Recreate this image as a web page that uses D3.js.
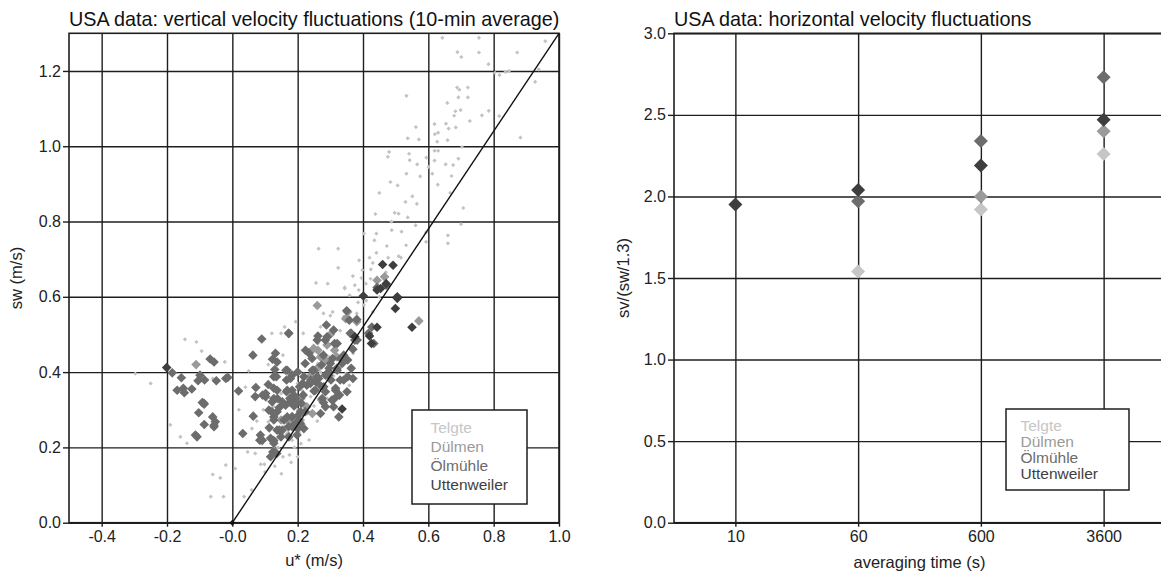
<!DOCTYPE html>
<html><head><meta charset="utf-8">
<script src="https://cdn.jsdelivr.net/npm/d3@7"></script>
<style>
html,body{margin:0;padding:0;background:#fff;}
svg text{font-family:"Liberation Sans",Arial,Helvetica,sans-serif;}
</style></head>
<body><svg id="c" width="1161" height="575"></svg>
<script>
// ---------- DATA ----------
const siteNames = ["Telgte", "Dülmen", "Ölmühle", "Uttenweiler"];
const siteColors = ["#c6c6c6", "#9a9a9a", "#6c6c6c", "#3e3e3e"];

// Left panel: u* (m/s) vs sw (m/s), 10-min averages
const telgte = [
[0.643,1.288],[0.755,1.288],[0.689,1.25],[0.701,1.237],[0.755,1.249],[0.872,1.249],[0.958,1.279],
[0.784,1.218],[0.804,1.195],[0.818,1.189],[0.836,1.197],[0.847,1.2],[0.938,1.204],[0.927,1.171],
[0.688,1.156],[0.695,1.15],[0.721,1.156],[0.692,1.13],[0.721,1.13],[0.533,1.134],[0.658,1.115],
[0.683,1.093],[0.699,1.096],[0.679,1.081],[0.727,1.067],[0.764,1.082],[0.785,1.094],[0.817,1.08],
[0.619,1.059],[0.654,1.06],[0.562,1.051],[0.62,1.032],[0.63,1.036],[0.662,1.047],[0.684,1.05],
[0.659,1.016],[0.537,1.021],[0.571,1.018],[0.627,1.012],[0.882,1.023],[0.703,0.998],[0.48,0.985],
[0.541,0.98],[0.594,0.97],[0.619,0.988],[0.63,0.988],[0.543,0.963],[0.566,0.952],[0.619,0.962],
[0.653,0.952],[0.676,0.95],[0.692,0.967],[0.476,0.972],[0.533,0.927],[0.575,0.92],[0.612,0.927],
[0.601,0.945],[0.671,0.921],[0.484,0.905],[0.506,0.896],[0.629,0.898],[0.667,0.876],[0.45,0.876],
[0.551,0.867],[0.53,0.852],[0.565,0.847],[0.707,0.836],[0.438,0.82],[0.497,0.823],[0.509,0.821],
[0.537,0.811],[0.487,0.8],[0.561,0.79],[0.7,0.793],[0.518,0.773],[0.488,0.777],[0.593,0.771],
[0.441,0.768],[0.66,0.763],[0.66,0.742],[0.532,0.737],[0.593,0.746],[0.403,0.768],[0.435,0.75],
[0.473,0.735],[0.509,0.708],[0.516,0.704],[0.264,0.728],[0.324,0.728],[0.441,0.717],[0.388,0.697],
[0.42,0.704],[0.477,0.704],[0.324,0.677],[0.398,0.671],[0.424,0.673],[0.369,0.655],[0.423,0.648],
[0.256,0.637],[0.292,0.635],[0.344,0.625],[0.387,0.618],[0.359,0.604],
[0.344,0.622],[0.375,0.631],[0.409,0.635],[0.279,0.556],[0.307,0.56],[0.341,0.547],[0.381,0.556],
[0.403,0.578],[0.194,0.534],[0.16,0.52],[0.121,0.503],[0.149,0.503],[0.217,0.503],[0.262,0.476],
[-0.145,0.487],[-0.094,0.456],[-0.023,0.427],[-0.06,0.383],[0.05,0.403],[-0.297,0.396],
[-0.159,0.228],[-0.139,0.211],[-0.06,0.128],[-0.037,0.119],[-0.02,0.153],[0.009,0.144],
[-0.066,0.069],[-0.027,0.069],[0.036,0.069],[0.059,0.087],[0.047,0.188],[0.07,0.184],[0.087,0.155],
[0.098,0.155],[0.127,0.202],[0.155,0.175],[0.081,0.228],[0.138,0.224],[0.11,0.268],[0.172,0.281],
[0.16,0.255],[0.183,0.219],[0.127,0.308],[0.104,0.326],[0.194,0.326],[0.149,0.343],[0.217,0.273],
[0.251,0.379],[0.262,0.423],[0.296,0.441],[0.347,0.396],[0.358,0.365],[0.33,0.343],
[0.2,0.3],[0.22,0.26],[0.165,0.235],[0.14,0.2],[0.118,0.17],[0.1,0.135],[0.13,0.15],[0.18,0.285],
[0.24,0.335],[0.28,0.35],[0.3,0.42],[0.32,0.47],[0.36,0.5],[0.385,0.585],[0.43,0.56],[0.205,0.24],
[0.23,0.29],[0.19,0.2],[0.25,0.31],[0.27,0.4],[0.31,0.39],[0.29,0.33],[-0.11,0.48],[-0.25,0.37],
[-0.19,0.26],[0.02,0.3],[0.04,0.36],[0.075,0.27],[0.09,0.21],[0.175,0.18],[0.215,0.35],[0.33,0.51],
[0.41,0.59],[0.45,0.6],[0.47,0.665],[0.37,0.45],[0.34,0.43],[0.155,0.445],[0.11,0.42],
[0.18,0.16],[0.2,0.175],[0.21,0.21],[0.235,0.22],[0.26,0.27],[0.285,0.3],[0.15,0.13],[0.17,0.24],
[0.095,0.3],[0.06,0.25],[0.2,0.37],[0.245,0.45],[0.27,0.52],[0.3,0.55],[0.395,0.65],[0.43,0.69]
];
const duelmen = [
[0.571,0.536],[0.26,0.577],[0.353,0.56],[0.347,0.542],[0.381,0.534],[0.249,0.463],[0.262,0.458],
[0.285,0.432],[0.29,0.472],[0.313,0.458],[0.228,0.308],[0.245,0.29],[0.273,0.326],[-0.111,0.42],
[0.149,0.273],[0.172,0.268],[0.443,0.644],[0.466,0.653],[0.3,0.5],[0.26,0.41],[0.21,0.33],
[0.27,0.44],[0.32,0.44],[0.24,0.39]
];
const oelmuehle = [
[-0.184,0.398],[-0.156,0.385],[-0.169,0.352],[-0.15,0.357],[-0.147,0.345],[-0.124,0.355],
[-0.099,0.392],[-0.105,0.377],[-0.085,0.379],[-0.068,0.435],[-0.056,0.427],[-0.049,0.377],
[-0.02,0.383],[-0.014,0.386],[-0.092,0.319],[-0.086,0.315],[-0.103,0.292],[-0.06,0.281],
[-0.086,0.261],[-0.056,0.255],[-0.052,0.268],[-0.113,0.233],[-0.108,0.228],[0.019,0.35],
[0.063,0.445],[0.09,0.488],[0.07,0.335],[0.072,0.359],[0.093,0.339],[0.102,0.343],[0.064,0.283],
[0.032,0.237],[0.086,0.233],[0.084,0.219],[0.113,0.252],[0.127,0.388],[0.13,0.407],[0.132,0.45],
[0.123,0.434],[0.11,0.367],[0.127,0.357],[0.138,0.33],[0.144,0.306],[0.121,0.295],[0.127,0.281],
[0.144,0.246],[0.127,0.218],[0.149,0.228],[0.124,0.188],[0.136,0.184],[0.172,0.503],[0.164,0.405],
[0.166,0.379],[0.183,0.392],[0.166,0.348],[0.183,0.352],[0.194,0.33],[0.177,0.321],[0.163,0.312],
[0.189,0.31],[0.206,0.361],[0.217,0.339],[0.211,0.317],[0.223,0.295],[0.203,0.286],[0.183,0.281],
[0.172,0.255],[0.194,0.264],[0.208,0.264],[0.2,0.25],[0.234,0.451],[0.223,0.423],[0.245,0.405],
[0.24,0.379],[0.256,0.374],[0.228,0.365],[0.262,0.496],[0.288,0.525],[0.285,0.485],[0.279,0.445],
[0.273,0.419],[0.296,0.41],[0.285,0.392],[0.264,0.383],[0.271,0.363],[0.285,0.348],[0.279,0.319],
[0.31,0.512],[0.313,0.476],[0.307,0.436],[0.302,0.379],[0.316,0.357],[0.33,0.379],[0.328,0.339],
[0.341,0.445],[0.336,0.423],[0.353,0.432],[0.353,0.388],[0.364,0.41],[0.369,0.383],[0.364,0.503],
[0.358,0.538],[0.381,0.54],[0.375,0.485],[0.369,0.461],[0.35,0.563],[0.313,0.33],[0.443,0.625],
[0.471,0.631],[0.2,0.4],[0.215,0.37],[0.25,0.35],[0.295,0.4],[0.32,0.41],
[-0.087,0.317],[-0.056,0.259],[0.102,0.335],[0.122,0.321],[0.092,0.219],[0.137,0.427],[0.135,0.388],
[0.137,0.352],[0.127,0.33],[0.153,0.321],[0.112,0.299],[0.137,0.295],[0.168,0.281],[0.127,0.273],
[0.158,0.273],[0.137,0.246],[0.153,0.246],[0.117,0.224],[0.127,0.211],[0.127,0.188],[0.117,0.175],
[0.173,0.503],[0.168,0.405],[0.178,0.383],[0.168,0.352],[0.188,0.339],[0.176,0.33],[0.193,0.317],
[0.209,0.295],[0.183,0.281],[0.204,0.273],[0.183,0.255],[0.219,0.25],[0.198,0.233],[0.173,0.228],
[0.224,0.458],[0.244,0.436],[0.249,0.405],[0.239,0.37],[0.26,0.388],[0.219,0.388],[0.254,0.352],
[0.28,0.361],[0.275,0.33],[0.305,0.326],[0.31,0.308],[0.285,0.308],[0.27,0.29],[0.26,0.485],
[0.29,0.494],[0.321,0.476],[0.331,0.436],[0.3,0.423],[0.295,0.392],[0.321,0.405],[0.341,0.379],
[0.351,0.348],[0.316,0.352],[0.326,0.281],[0.361,0.503],[0.382,0.485],[0.417,0.503],[0.433,0.476],
[0.427,0.52]
];
const uttenweiler = [
[0.336,0.302],[0.42,0.496],[0.426,0.476],[0.443,0.519],[0.499,0.569],[0.505,0.596],[0.55,0.519],
[0.443,0.618],[0.454,0.622],[0.471,0.635],[0.401,0.602],[0.46,0.686],[0.492,0.684],[-0.201,0.412],
[0.375,0.494],[0.505,0.6]
];
const refLine = [[0, 0], [1.0, 1.3]];   // sw = 1.3 u*

// Right panel: sv/(sw/1.3) vs averaging time
const avgTimes = ["10", "60", "600", "3600"];
const rTelgte = [null, 1.54, 1.92, 2.26];
const rDuelmen = [null, null, 2.00, 2.40];
const rOelmuehle = [null, 1.97, 2.34, 2.73];
const rUttenweiler = [1.95, 2.04, 2.19, 2.47];

const leftXTicks = [-0.4, -0.2, 0.0, 0.2, 0.4, 0.6, 0.8, 1.0];
const leftXLabels = ["-0.4", "-0.2", "-0.0", "0.2", "0.4", "0.6", "0.8", "1.0"];
const leftYTicks = [0.0, 0.2, 0.4, 0.6, 0.8, 1.0, 1.2];
const rightYTicks = [0.0, 0.5, 1.0, 1.5, 2.0, 2.5, 3.0];

// ---------- DRAW ----------
const svg = d3.select("#c");
const gridColor = "#1e1e1e";
const diamond = (cx, cy, h) => `M${cx},${cy - h}L${cx + h},${cy}L${cx},${cy + h}L${cx - h},${cy}Z`;

function styleAxis(g) {
  g.select(".domain").remove();
  g.selectAll("line").attr("stroke", gridColor).attr("stroke-width", 1.4);
  g.selectAll("text").attr("fill", "#222").style("font-size", "16px");
}

// ===== LEFT PANEL =====
const L = {x0: 69, x1: 559, y0: 33.3, y1: 522.7};
const xL = d3.scaleLinear().domain([-0.5, 1.0]).range([L.x0, L.x1]);
const yL = d3.scaleLinear().domain([0, 1.3]).range([L.y1, L.y0]);
const gl = svg.append("g");

gl.append("g").attr("transform", `translate(0,${L.y1})`)
  .call(d3.axisBottom(xL).tickValues(leftXTicks).tickSize(-(L.y1 - L.y0)).tickFormat(""))
  .call(styleAxis);
gl.append("g").attr("transform", `translate(${L.x0},0)`)
  .call(d3.axisLeft(yL).tickValues(leftYTicks).tickSize(-(L.x1 - L.x0)).tickFormat(""))
  .call(styleAxis);
gl.append("g").attr("transform", `translate(0,${L.y1})`)
  .call(d3.axisBottom(xL).tickValues(leftXTicks).tickSize(4).tickPadding(4)
    .tickFormat((d, i) => leftXLabels[i]))
  .call(styleAxis);
gl.append("g").attr("transform", `translate(${L.x0},0)`)
  .call(d3.axisLeft(yL).tickValues(leftYTicks).tickSize(6).tickPadding(2).tickFormat(d3.format(".1f")))
  .call(styleAxis);
gl.append("rect").attr("x", L.x0).attr("y", L.y0).attr("width", L.x1 - L.x0).attr("height", L.y1 - L.y0)
  .attr("fill", "none").attr("stroke", gridColor).attr("stroke-width", 1.6);

const drawSet = (data, color, h) => gl.append("g").selectAll("path").data(data).join("path")
  .attr("d", d => diamond(xL(d[0]), yL(d[1]), h)).attr("fill", color);
drawSet(telgte, "#c2c2c2", 2.1);
drawSet(duelmen, siteColors[1], 4.8);
drawSet(oelmuehle, siteColors[2], 4.8);
drawSet(uttenweiler, siteColors[3], 4.8);

gl.append("path").datum(refLine)
  .attr("d", d3.line().x(d => xL(d[0])).y(d => yL(d[1])))
  .attr("fill", "none").attr("stroke", "#111").attr("stroke-width", 1.4);
gl.append("path").attr("d", diamond(xL(refLine[0][0]), yL(refLine[0][1]), 3)).attr("fill", "#111");

gl.append("text").attr("x", L.x0).attr("y", 26).text("USA data: vertical velocity fluctuations (10-min average)")
  .style("font-size", "19.8px").attr("fill", "#111");
gl.append("text").attr("x", (L.x0 + L.x1) / 2).attr("y", 566).attr("text-anchor", "middle")
  .text("u* (m/s)").style("font-size", "16.5px").attr("fill", "#222");
gl.append("text").attr("transform", `translate(22,${(L.y0 + L.y1) / 2}) rotate(-90)`).attr("text-anchor", "middle")
  .text("sw (m/s)").style("font-size", "16.5px").attr("fill", "#222");

const legL = gl.append("g");
legL.append("rect").attr("x", 412).attr("y", 410).attr("width", 115).attr("height", 94)
  .attr("fill", "#fff").attr("stroke", gridColor).attr("stroke-width", 1.5);
siteNames.forEach((n, i) => legL.append("text").attr("x", 430.5).attr("y", 433 + i * 19)
  .text(n).attr("fill", siteColors[i]).style("font-size", "15.5px"));

// ===== RIGHT PANEL =====
const R = {x0: 674, x1: 1165, y0: 33.3, y1: 522.7};
const xR = d3.scalePoint().domain(avgTimes).range([R.x0, R.x1]).padding(0.5);
const yR = d3.scaleLinear().domain([0, 3]).range([R.y1, R.y0]);
const gr = svg.append("g");

gr.append("g").attr("transform", `translate(0,${R.y1})`)
  .call(d3.axisBottom(xR).tickSize(-(R.y1 - R.y0)).tickFormat(""))
  .call(styleAxis);
gr.append("g").attr("transform", `translate(${R.x0},0)`)
  .call(d3.axisLeft(yR).tickValues(rightYTicks).tickSize(-(R.x1 - R.x0)).tickFormat(""))
  .call(styleAxis);
gr.append("g").attr("transform", `translate(0,${R.y1})`)
  .call(d3.axisBottom(xR).tickSize(4).tickPadding(4))
  .call(styleAxis);
gr.append("g").attr("transform", `translate(${R.x0},0)`)
  .call(d3.axisLeft(yR).tickValues(rightYTicks).tickSize(6).tickPadding(2).tickFormat(d3.format(".1f")))
  .call(styleAxis);
gr.append("rect").attr("x", R.x0).attr("y", R.y0).attr("width", R.x1 - R.x0).attr("height", R.y1 - R.y0)
  .attr("fill", "none").attr("stroke", gridColor).attr("stroke-width", 1.6);

const rSeries = [rTelgte, rDuelmen, rOelmuehle, rUttenweiler];
rSeries.forEach((vals, si) => {
  gr.append("g").selectAll("path")
    .data(avgTimes.map((t, i) => [t, vals[i]]).filter(d => d[1] != null))
    .join("path").attr("d", d => diamond(xR(d[0]), yR(d[1]), 7)).attr("fill", siteColors[si]);
});

gr.append("text").attr("x", R.x0).attr("y", 26).text("USA data: horizontal velocity fluctuations")
  .style("font-size", "19.8px").attr("fill", "#111");
gr.append("text").attr("x", (R.x0 + R.x1) / 2).attr("y", 568).attr("text-anchor", "middle")
  .text("averaging time (s)").style("font-size", "16.5px").attr("fill", "#222");
gr.append("text").attr("transform", `translate(629,${(R.y0 + R.y1) / 2}) rotate(-90)`).attr("text-anchor", "middle")
  .text("sv/(sw/1.3)").style("font-size", "16.5px").attr("fill", "#222");

const legR = gr.append("g");
legR.append("rect").attr("x", 1006).attr("y", 409).attr("width", 123).attr("height", 81)
  .attr("fill", "#fff").attr("stroke", gridColor).attr("stroke-width", 1.5);
siteNames.forEach((n, i) => legR.append("text").attr("x", 1020.5).attr("y", 431 + i * 16)
  .text(n).attr("fill", siteColors[i]).style("font-size", "15.5px"));
</script>
</body></html>
